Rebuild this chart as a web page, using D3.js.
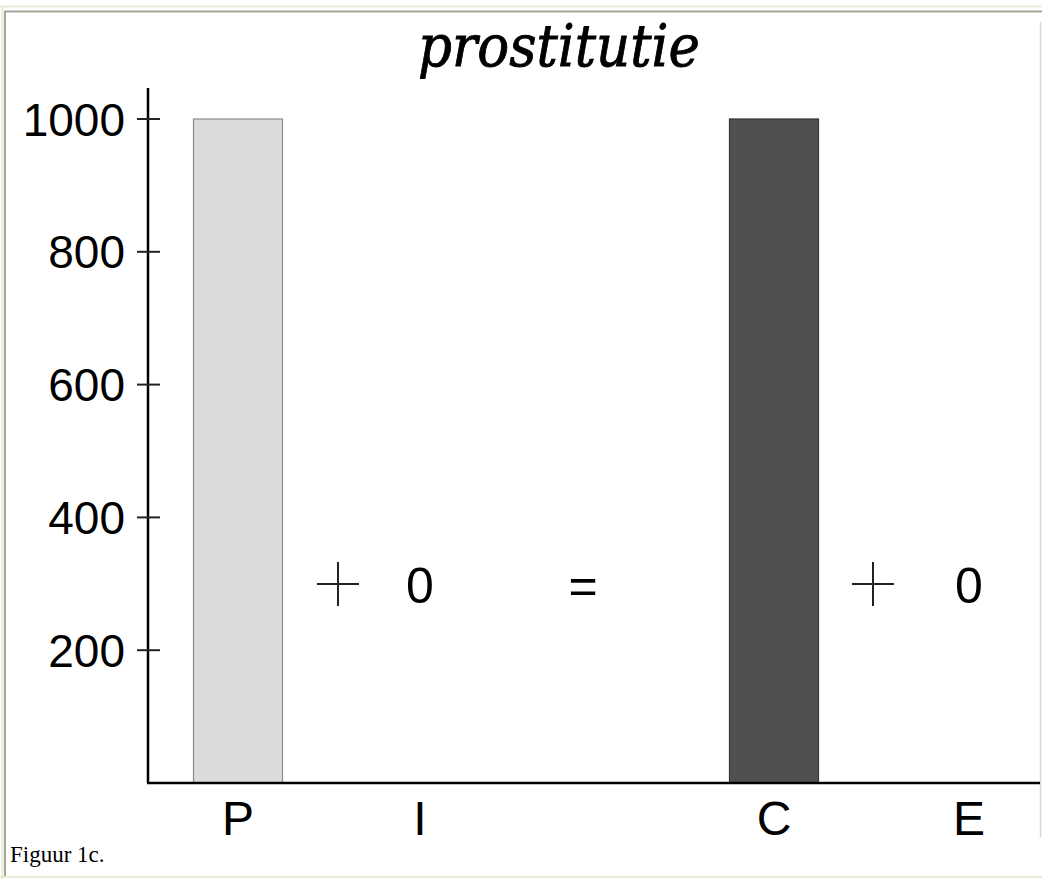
<!DOCTYPE html>
<html>
<head>
<meta charset="utf-8">
<script src="https://cdn.jsdelivr.net/npm/d3@7"></script>
<style>
  html, body { margin: 0; padding: 0; background: #fff; }
  svg { display: block; }
</style>
</head>
<body>
<svg id="chart" width="1042" height="879"></svg>
<script>
// chart data
const categories = ['P', 'I', 'C', 'E'];
const values     = [1000, 0, 1000, 0];
const barColours = ['#dcdcdc', '#dcdcdc', '#505050', '#505050'];
const yTicks     = [200, 400, 600, 800, 1000];
// the operators between the terms: P + I = C + E
const slots      = ['P', 'plus1', 'I', 'eq', 'C', 'plus2', 'E'];
const operators  = [{ slot: 'plus1', sym: '+' }, { slot: 'eq', sym: '=' }, { slot: 'plus2', sym: '+' }];
const title      = 'prostitutie';
const caption    = 'Figuur 1c.';

const W = 1042, H = 879;
const svg = d3.select('#chart');

// page frame (old table cell look)
const frame = svg.append('g').attr('class', 'frame');
frame.append('rect').attr('x', 0).attr('y', 0).attr('width', W).attr('height', H).attr('fill', '#fff');
frame.append('line').attr('x1', 0).attr('x2', W).attr('y1', 6.5).attr('y2', 6.5).attr('stroke', '#ece9d8').attr('stroke-width', 2);
frame.append('line').attr('x1', 2.5).attr('x2', 2.5).attr('y1', 6).attr('y2', H).attr('stroke', '#ece9d8').attr('stroke-width', 2);
frame.append('line').attr('x1', 0).attr('x2', W).attr('y1', H - 2).attr('y2', H - 2).attr('stroke', '#ece9d8').attr('stroke-width', 2);
frame.append('line').attr('x1', 4.5).attr('x2', W).attr('y1', 11.5).attr('y2', 11.5).attr('stroke', '#a7a69a').attr('stroke-width', 2);
frame.append('line').attr('x1', 5).attr('x2', 5).attr('y1', 11).attr('y2', H - 3).attr('stroke', '#a7a69a').attr('stroke-width', 2);
frame.append('line').attr('x1', 1040.5).attr('x2', 1040.5).attr('y1', 22).attr('y2', 837).attr('stroke', '#d6d6d6').attr('stroke-width', 1.5);

// scales
const y = d3.scaleLinear().domain([0, 1000]).range([783, 119]);
const x = d3.scaleOrdinal().domain(slots).range([238, 338, 420, 583, 774, 873, 969]);
const barW = 89;

// bars
svg.append('g').attr('class', 'bars')
  .selectAll('rect')
  .data(categories.map((c, i) => ({ c, v: values[i], col: barColours[i] })).filter(d => d.v > 0))
  .enter().append('rect')
  .attr('x', d => x(d.c) - barW / 2)
  .attr('y', d => y(d.v))
  .attr('width', barW)
  .attr('height', d => y(0) - y(d.v))
  .attr('fill', d => d.col)
  .attr('stroke', d => d.col === '#505050' ? '#333' : '#8a8a8a')
  .attr('stroke-width', 1.2);

// y axis
const yAxis = svg.append('g').attr('class', 'y-axis');
yAxis.append('line')
  .attr('x1', 148).attr('x2', 148).attr('y1', 88).attr('y2', y(0))
  .attr('stroke', '#000').attr('stroke-width', 2.5);
yAxis.selectAll('line.tick')
  .data(yTicks).enter().append('line').attr('class', 'tick')
  .attr('x1', 137).attr('x2', 160)
  .attr('y1', d => y(d)).attr('y2', d => y(d))
  .attr('stroke', '#222').attr('stroke-width', 2);
yAxis.selectAll('text')
  .data(yTicks).enter().append('text')
  .attr('x', 125).attr('y', d => y(d))
  .attr('dy', '0.36em')
  .attr('text-anchor', 'end')
  .attr('font-family', 'Liberation Sans, Arial, sans-serif')
  .attr('font-size', 46)
  .text(d => d);

// x axis
svg.append('line')
  .attr('x1', 147).attr('x2', W - 2).attr('y1', y(0)).attr('y2', y(0))
  .attr('stroke', '#000').attr('stroke-width', 2.5);
svg.append('g').attr('class', 'x-labels')
  .selectAll('text')
  .data(categories).enter().append('text')
  .attr('x', d => x(d)).attr('y', 835)
  .attr('text-anchor', 'middle')
  .attr('font-family', 'Liberation Sans, Arial, sans-serif')
  .attr('font-size', 48)
  .text(d => d);

// zero values printed where the bar would be
svg.append('g').attr('class', 'zeros')
  .selectAll('text')
  .data(categories.map((c, i) => ({ c, v: values[i] })).filter(d => d.v === 0))
  .enter().append('text')
  .attr('x', d => x(d.c)).attr('y', 603)
  .attr('text-anchor', 'middle')
  .attr('font-family', 'Liberation Sans, Arial, sans-serif')
  .attr('font-size', 50)
  .text(d => d.v);

// operators: thin plus drawn as a cross, '=' as text
const ops = svg.append('g').attr('class', 'ops');
const opY = 584;
operators.forEach(o => {
  const cx = x(o.slot);
  if (o.sym === '+') {
    ops.append('path')
      .attr('d', `M${cx - 21},${opY}H${cx + 21}M${cx},${opY - 22}V${opY + 22}`)
      .attr('stroke', '#222').attr('stroke-width', 2).attr('fill', 'none');
  } else {
    ops.append('text')
      .attr('x', cx).attr('y', 603)
      .attr('text-anchor', 'middle')
      .attr('font-family', 'Liberation Sans, Arial, sans-serif')
      .attr('font-size', 50)
      .text(o.sym);
  }
});

// title — semi-bold look via a thin stroke
svg.append('text')
  .attr('x', 559).attr('y', 66)
  .attr('text-anchor', 'middle')
  .attr('font-family', 'DejaVu Serif, serif')
  .attr('font-style', 'italic')
  .attr('font-size', 58)
  .attr('stroke', '#000')
  .attr('stroke-width', 0.9)
  .attr('textLength', 282)
  .attr('lengthAdjust', 'spacingAndGlyphs')
  .text(title);

// caption
svg.append('text')
  .attr('x', 10).attr('y', 862)
  .attr('font-family', 'Liberation Serif, Times New Roman, serif')
  .attr('font-size', 23)
  .text(caption);
</script>
</body>
</html>
